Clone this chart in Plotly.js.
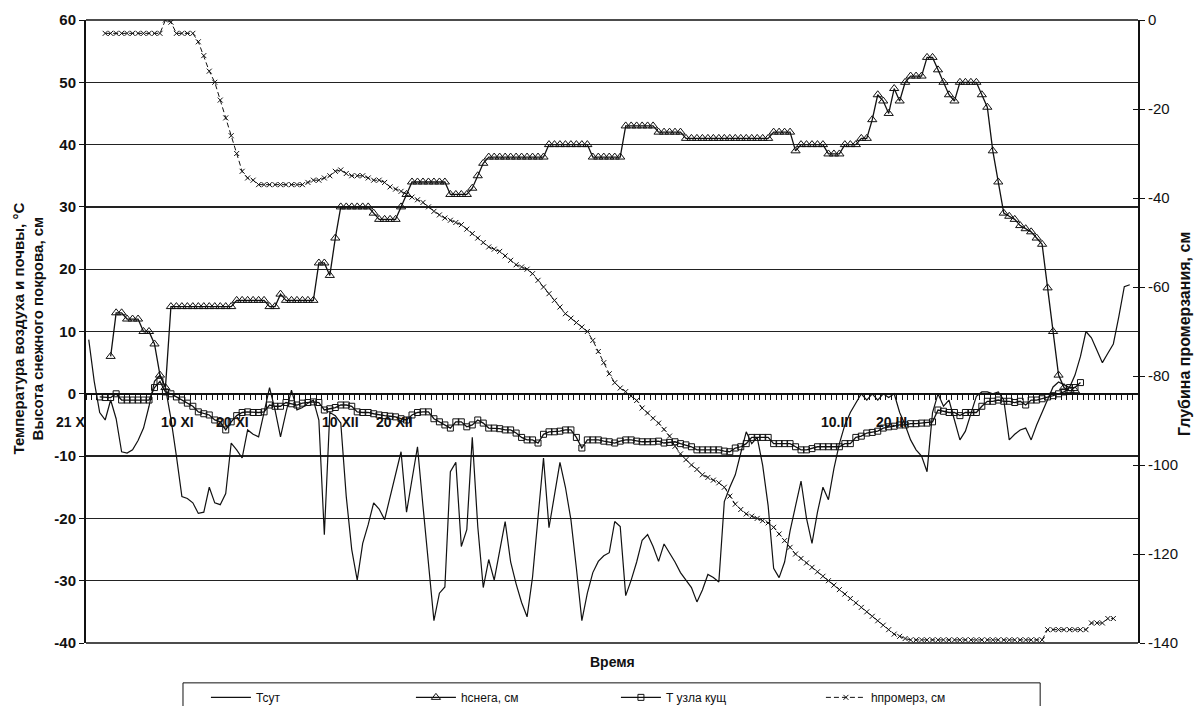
<!DOCTYPE html>
<html>
<head>
<meta charset="utf-8">
<script src="https://cdn.plot.ly/plotly-3.0.1.min.js"></script>
<style>
  html, body { margin: 0; padding: 0; background: #fff; }
  #chart { width: 1201px; height: 706px; }
</style>
</head>
<body>
<div id="chart"></div>
<script>
// Day index 0 = 21 October; one category per day
const dayCount = 192;
const days = Array.from({ length: dayCount }, (_, i) => i);

// Daily mean air temperature, °C
const tAir = [
  8.7, 2, -3, -4.2, -1, -4, -9.3, -9.5, -9, -7.5,
  -5.5, -2, 2, 3, 1, -4, -10, -16.5, -16.8, -17.5,
  -19.2, -19, -15, -17.5, -17.8, -16, -7.9, -9, -10.3, -5.8,
  -6.5, -6.9, -3, 1, -2.6, -6.9, -3, 0.6, -2.6, -2.2,
  -1.5, -1, -4.2, -22.6, -3, -3.5, -4.7, -16.5, -25, -29.9,
  -24, -21, -17.5, -18.5, -20.2, -16.5, -13, -9.3, -19, -13.5,
  -8.5, -18, -27, -36.4, -32, -31, -12.5, -11, -24.5, -21.8,
  -7, -21.3, -31.1, -26.6, -29.9, -25, -20.5, -27, -30.5, -33.5,
  -35.8, -29.4, -20, -10.3, -21.5, -16, -11, -15, -20.2, -28,
  -36.4, -32, -28.7, -26.9, -26, -25.5, -20.5, -21.3, -32.4, -29.9,
  -27, -23.5, -22.6, -24.5, -26.9, -24.1, -25.5, -27, -28.7, -30,
  -31.1, -33.4, -31.5, -29, -29.5, -30.2, -17.3, -15, -13, -9.5,
  -6.1, -8, -7, -11.5, -18, -28, -29.5, -27, -22, -18,
  -14, -20, -24, -19, -15, -17, -12, -8, -5, -3,
  -1.5, 0, -1, 0, -1, 0, -0.6, 0, -3, -5,
  -7.4, -9, -10, -12.5, -3, 0, -2, -1, -4.2, -7.4,
  -6, -3, -0.4, 0.3, 0.3, 0, 0.3, -1, -7.4, -6.5,
  -5.8, -5.5, -7.4, -5, -3, -1, 1.1, 1.9, 1.5, 1,
  3, 6, 10, 9, 7, 5, 6.5, 8, 12.4, 17.2,
  17.5, null
];

// Snow depth, cm
const snowDepth = [
  null, null, null, null, 6, 13, 13, 12, 12, 12,
  10, 10, 8, 3, 1, 14, 14, 14, 14, 14,
  14, 14, 14, 14, 14, 14, 14, 15, 15, 15,
  15, 15, 15, 14, 14, 16, 15, 15, 15, 15,
  15, 15, 21, 21, 19, 25, 30, 30, 30, 30,
  30, 30, 29, 28, 28, 28, 28, 30, 32, 34,
  34, 34, 34, 34, 34, 34, 32, 32, 32, 32,
  33, 35, 37, 38, 38, 38, 38, 38, 38, 38,
  38, 38, 38, 38, 40, 40, 40, 40, 40, 40,
  40, 40, 38, 38, 38, 38, 38, 38, 43, 43,
  43, 43, 43, 43, 42, 42, 42, 42, 42, 41,
  41, 41, 41, 41, 41, 41, 41, 41, 41, 41,
  41, 41, 41, 41, 41, 42, 42, 42, 42, 39,
  40, 40, 40, 40, 40, 38.5, 38.5, 38.5, 40, 40,
  40, 41, 41, 44, 48, 47, 45, 49, 47, 50,
  51, 51, 51, 54, 54, 52, 50, 48, 47, 50,
  50, 50, 50, 48, 46, 39, 34, 29, 28.5, 28,
  27, 26.5, 26, 25, 24, 17, 10, 3, 1, 0.5,
  0.5, null, null, null, null, null, null, null, null, null,
  null, null
];

// Soil temperature at the tillering node, °C
const tNode = [
  null, null, -0.5, -0.6, -0.6, 0, -1, -1, -1, -1,
  -1, -1, 1, 2, 0.3, 0, -0.5, -1, -1.5, -2,
  -2.9, -3.2, -3.4, -4.2, -4.5, -5.8, -4.5, -3.5, -3, -2.9,
  -3, -3, -2.9, -1.8, -2, -2, -1.4, -1.6, -1.8, -1.5,
  -1.4, -1.3, -1.4, -2.6, -2.4, -2.2, -1.8, -1.8, -2, -2.9,
  -3, -3, -3.2, -3.4, -3.5, -3.6, -3.7, -4, -4.2, -3.4,
  -3, -2.9, -2.9, -4, -4.5, -5, -5.5, -4.5, -4.5, -5.3,
  -5, -4.2, -4.7, -5.5, -5.5, -5.6, -5.8, -5.8, -6.3, -7,
  -7.4, -7.4, -7.9, -6.5, -6.1, -6.1, -6, -5.8, -5.8, -7,
  -8.7, -7.4, -7.4, -7.4, -7.6, -7.7, -7.9, -7.6, -7.4, -7.4,
  -7.6, -7.7, -7.7, -7.7, -7.6, -7.9, -7.8, -7.7, -8, -8.2,
  -8.5, -9, -9, -9, -9, -9, -9.2, -9.3, -8.7, -8.5,
  -8, -7, -7, -7, -7, -8, -8, -8, -8, -8.5,
  -9, -9, -8.8, -8.5, -8.5, -8.5, -8.5, -8.5, -8, -8,
  -7, -6.8, -6.3, -6.2, -6, -5.5, -5.3, -5.2, -5, -5,
  -4.8, -4.8, -4.7, -4.7, -4.5, -2.6, -2.8, -3, -3, -3.5,
  -3, -3, -3, -2, -1.2, -1.2, -1, -1.2, -1.2, -1.4,
  -1.2, -1.8, -1, -1, -0.8, -0.5, -0.3, 0, 0.3, 1,
  1, 1.8, null, null, null, null, null, null, null, null,
  null, null
];

// Frost penetration depth, cm (right axis)
const frostDepth = [
  null, null, null, -3, -3, -3, -3, -3, -3, -3,
  -3, -3, -3, -3, 0, -0.5, -3, -3, -3, -3,
  -4.9, -8, -11.5, -14, -18, -22, -26, -30, -34, -35.5,
  -36, -37, -37, -37, -37, -37, -37, -37, -37, -37,
  -36.5, -36, -36, -35.5, -35, -34, -33.7, -34.5, -35, -35,
  -35, -35.5, -36, -36, -36.5, -37.5, -38, -38.5, -39.2, -39.8,
  -40.4, -41, -42, -43, -43.8, -44.5, -45, -45.5, -46, -47,
  -48, -49, -50, -51, -51.5, -52, -53, -54, -55, -55.5,
  -56, -57, -58.5, -60, -61.5, -63, -64.5, -66, -67, -68,
  -69, -70, -72, -74.5, -77, -79.5, -81.5, -82.7, -83.5, -84.5,
  -85.5, -87.2, -88.3, -89.5, -90.6, -92, -93.5, -95.8, -97.5, -98.8,
  -100, -101, -102.2, -102.8, -103.4, -104, -105, -107, -108.8, -110,
  -111, -111.5, -112, -112.5, -113, -114, -115.5, -117, -118.5, -120,
  -121, -122, -123, -124, -125, -126, -127, -128, -129, -130,
  -131, -132, -133, -134, -135, -136, -137, -138, -138.5, -139,
  -139.3, -139.3, -139.3, -139.3, -139.3, -139.3, -139.3, -139.3, -139.3, -139.3,
  -139.3, -139.3, -139.3, -139.3, -139.3, -139.3, -139.3, -139.3, -139.3, -139.3,
  -139.3, -139.3, -139.3, -139.3, -139.3, -137, -137, -137, -137, -137,
  -137, -137, -137, -135.5, -135.5, -135.5, -134.5, -134.5, null, null,
  null, null
];

// Date captions along the zero line
const dateLabels = ['21 X', '10 XI', '20 XI', '10 XII', '20 XII', '10.III', '20.III'];
const dateLabelDays = [0, 20, 30, 50, 60, 140, 150];

const leftTicks = [60, 50, 40, 30, 20, 10, 0, -10, -20, -30, -40];
const rightTicks = [0, -20, -40, -60, -80, -100, -120, -140];

const ink = '#111';
const family = 'Liberation Sans, Arial, sans-serif';
const bold = (size) => ({ family: family, size: size, color: ink, weight: 'bold' });

const traces = [
  {
    name: 'Тсут', x: days, y: tAir, type: 'scatter', mode: 'lines',
    line: { color: ink, width: 1.2 }, connectgaps: false
  },
  {
    name: 'hснега, см', x: days, y: snowDepth, type: 'scatter', mode: 'lines+markers',
    line: { color: ink, width: 1.3 },
    marker: { symbol: 'triangle-up-open', size: 8, color: ink, line: { width: 1 } }
  },
  {
    name: 'Т узла кущ', x: days, y: tNode, type: 'scatter', mode: 'lines+markers',
    line: { color: ink, width: 1.3 },
    marker: { symbol: 'square-open', size: 6, color: ink, line: { width: 1 } }
  },
  {
    name: 'hпромерз, см', x: days, y: frostDepth, yaxis: 'y2', type: 'scatter', mode: 'lines+markers',
    line: { color: ink, width: 1, dash: '5px,3px' },
    marker: { symbol: 'x-thin-open', size: 5, color: ink, line: { width: 1, color: ink } }
  }
];

const annotations = dateLabels.map((t, k) => ({
  x: dateLabelDays[k], y: -4.6, xref: 'x', yref: 'y', text: t,
  xanchor: 'right', yanchor: 'middle', xshift: -2, showarrow: false,
  font: bold(14)
}));

annotations.push(
  {
    xref: 'paper', yref: 'paper', x: 0.5, y: -0.031, text: 'Время', showarrow: false,
    xanchor: 'center', yanchor: 'middle', font: bold(14)
  },
  {
    xref: 'paper', yref: 'paper', x: -0.055, y: 0.505, textangle: -90, showarrow: false,
    xanchor: 'center', yanchor: 'middle', align: 'center',
    text: 'Температура воздуха и почвы, °С<br>Высота снежного покрова, см',
    font: bold(15)
  },
  {
    xref: 'paper', yref: 'paper', x: 1.0447, y: 0.496, textangle: -90, showarrow: false,
    xanchor: 'center', yanchor: 'middle',
    text: 'Глубина промерзания, см',
    font: bold(16)
  }
);

const layout = {
  width: 1201, height: 706,
  margin: { l: 86, r: 63, t: 20, b: 63, autoexpand: false },
  paper_bgcolor: '#fff', plot_bgcolor: '#fff',
  showlegend: true,
  legend: {
    orientation: 'h', x: 0.114, xanchor: 'left', y: -0.064, yanchor: 'top',
    borderwidth: 0, bgcolor: 'rgba(0,0,0,0)',
    entrywidth: 150, entrywidthmode: 'pixels', itemwidth: 40,
    font: { family: 'Liberation Sans Narrow, Liberation Sans, Arial, sans-serif', size: 12, color: ink }
  },
  xaxis: {
    range: [-0.5, dayCount - 0.5],
    anchor: 'free', position: 0.4,
    showgrid: false, zeroline: false,
    showline: true, linecolor: ink, linewidth: 2,
    ticks: 'outside', ticklen: 5, tickwidth: 1, tickcolor: ink,
    tick0: 0.5, dtick: 1, showticklabels: false
  },
  yaxis: {
    range: [-40, 60],
    tickvals: leftTicks, ticktext: leftTicks.map(String),
    showgrid: true, gridcolor: '#222', gridwidth: 1.4,
    zeroline: false,
    showline: true, linecolor: ink, linewidth: 2,
    ticks: 'outside', ticklen: 5, tickcolor: ink,
    tickfont: bold(15)
  },
  yaxis2: {
    range: [-140, 0], overlaying: 'y', side: 'right',
    tickvals: rightTicks, ticktext: rightTicks.map(String),
    showgrid: false, zeroline: false,
    showline: true, linecolor: ink, linewidth: 2,
    ticks: 'outside', ticklen: 5, tickcolor: ink,
    tickfont: { family: family, size: 15, color: ink }
  },
  yaxis3: {
    range: [-140, 0], overlaying: 'y', side: 'right',
    tickvals: rightTicks, showticklabels: false,
    showgrid: false, zeroline: false, showline: false,
    ticks: 'inside', ticklen: 5, tickcolor: ink
  },
  shapes: [
    { type: 'line', xref: 'paper', yref: 'paper', x0: 0, x1: 1, y0: 0, y1: 0, line: { color: ink, width: 1.6 } },
    { type: 'line', xref: 'paper', yref: 'paper', x0: 0, x1: 1, y0: 1, y1: 1, line: { color: ink, width: 1.6 } },
    // legend frame, open at the bottom edge of the page
    { type: 'rect', xref: 'paper', yref: 'paper', x0: 0.0922, x1: 0.907, y0: -0.064, y1: -0.2,
      line: { color: ink, width: 1 }, fillcolor: 'rgba(0,0,0,0)' }
  ],
  annotations: annotations
};

// invisible point keeps the inner tick axis drawn
traces.push({ x: [0], y: [-200], yaxis: 'y3', type: 'scatter', mode: 'markers', showlegend: false, hoverinfo: 'skip', marker: { opacity: 0 } });

Plotly.newPlot('chart', traces, layout, { displayModeBar: false, staticPlot: true });
</script>
</body>
</html>
